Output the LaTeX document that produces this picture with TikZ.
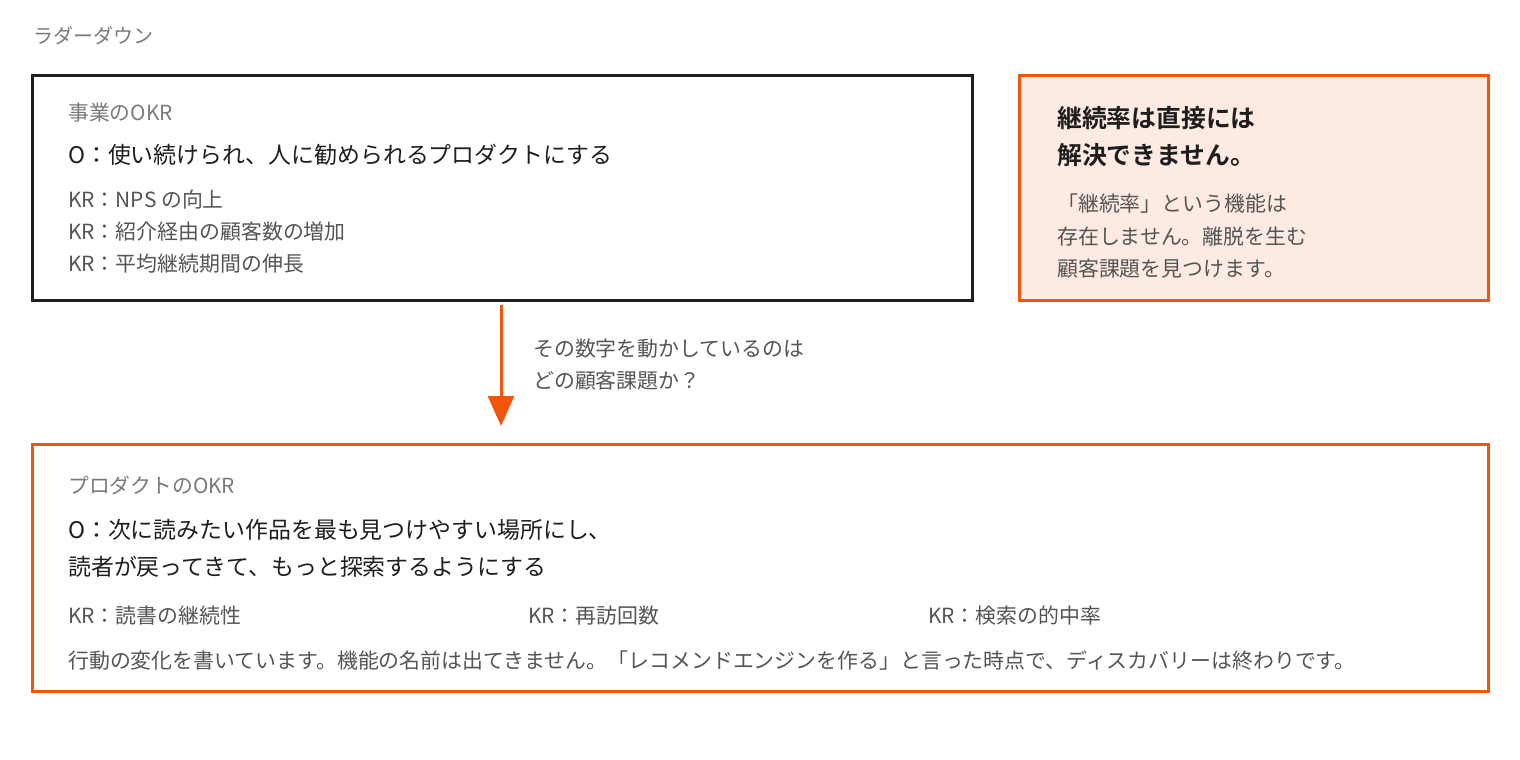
\documentclass[tikz,border=0pt]{standalone}
\usepackage{fontspec}
\usetikzlibrary{arrows.meta}
\setmainfont{Noto Sans CJK JP}[BoldFont={Noto Sans CJK JP Bold}]
\definecolor{orng}{HTML}{F2560C}
\definecolor{pinkfill}{HTML}{FDEAE2}
\definecolor{dark}{HTML}{1E1E1E}
\definecolor{mid}{HTML}{555555}
\definecolor{light}{HTML}{7A7A7A}
\tikzset{
  txt/.style={anchor=west, inner sep=0pt, text=mid, font=\fontsize{20.9}{24}\selectfont},
  captxt/.style={anchor=west, inner sep=0pt, text=light, font=\fontsize{20.8}{24}\selectfont},
  titletxt/.style={anchor=west, inner sep=0pt, text=light, font=\fontsize{20}{24}\selectfont},
  obj/.style={anchor=west, inner sep=0pt, text=dark, font=\fontsize{22.9}{27}\selectfont},
  head/.style={anchor=west, inner sep=0pt, text=dark, font=\fontsize{24.8}{29}\bfseries\selectfont},
  boxblack/.style={draw=dark, line width=3pt, fill=white},
  boxorange/.style={draw=orng, line width=3pt},
}
\begin{document}
\begin{tikzpicture}[x=1pt,y=-1pt]
\useasboundingbox (0,0) rectangle (1520,760);
\fill[white] (0,0) rectangle (1520,760);
\node[titletxt] (title) at (33,36) {ラダーダウン};
% box 1
\draw[boxblack] (32,75) rectangle (972,300);
\node[captxt] (c1) at (68,113) {事業のOKR};
\node[obj] (o1) at (68,155) {O：使い続けられ、人に勧められるプロダクトにする};
\node[txt] (k1) at (68,200) {KR：NPS の向上};
\node[txt] (k2) at (68,232) {KR：紹介経由の顧客数の増加};
\node[txt] (k3) at (68,264) {KR：平均継続期間の伸長};
% box 2
\draw[boxorange, fill=pinkfill] (1019,75) rectangle (1488,300);
\node[head] (h1) at (1057,118) {継続率は直接には};
\node[head] (h2) at (1057,155) {解決できません。};
\node[txt] (n1) at (1057,204) {「継続率」という機能は};
\node[txt] (n2) at (1057,237) {存在しません。離脱を生む};
\node[txt] (n3) at (1057,269) {顧客課題を見つけます。};
% arrow
\coordinate (b1bottom) at (501,305);
\coordinate (b3top) at (501,426);
\draw[orng, line width=3pt, -{Triangle[length=30pt,width=26pt]}] (b1bottom) -- (b3top);
\node[txt] (q1) at (533,349) {その数字を動かしているのは};
\node[txt] (q2) at (533,381) {どの顧客課題か？};
% box 3
\draw[boxorange, fill=white] (32,444) rectangle (1488,691);
\node[captxt] (c3) at (68,485) {プロダクトのOKR};
\node[obj] (o3a) at (68,530) {O：次に読みたい作品を最も見つけやすい場所にし、};
\node[obj] (o3b) at (68,567) {読者が戻ってきて、もっと探索するようにする};
\node[txt] (r1) at (68,616) {KR：読書の継続性};
\node[txt] (r2) at (528,616) {KR：再訪回数};
\node[txt] (r3) at (928,616) {KR：検索の的中率};
\node[txt] (last) at (68,660) {行動の変化を書いています。機能の名前は出てきません。「レコメンドエンジンを作る」と言った時点で、ディスカバリーは終わりです。};
\end{tikzpicture}
\end{document}
